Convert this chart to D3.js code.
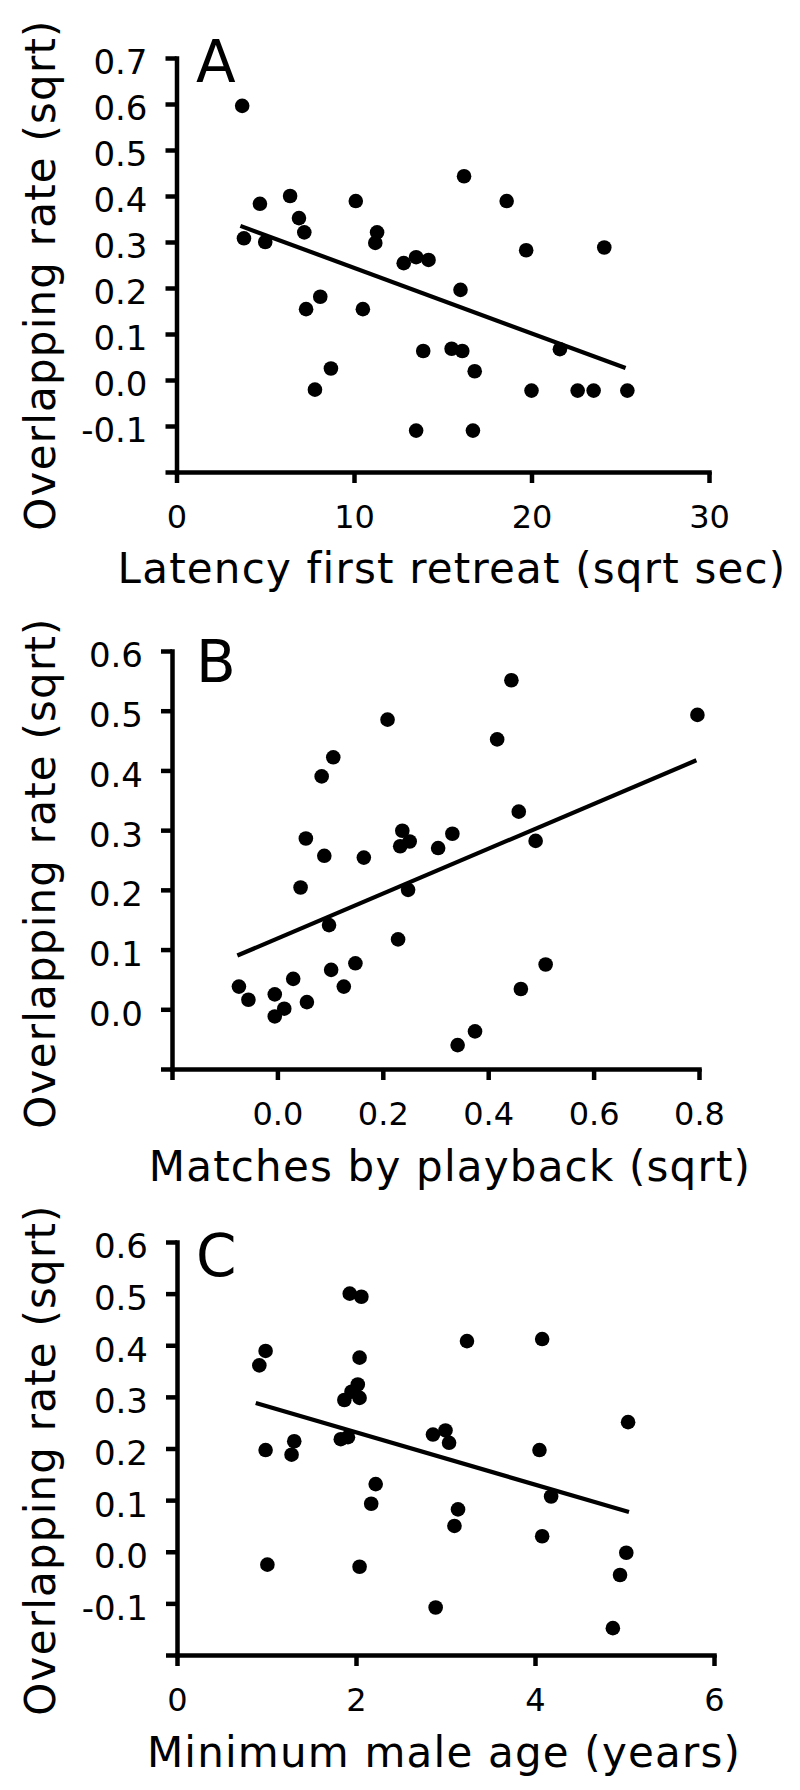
<!DOCTYPE html>
<html>
<head>
<meta charset="utf-8">
<script src="https://cdn.jsdelivr.net/npm/d3@7"></script>
<style>
  body { margin: 0; background: #fff; }
  svg { display: block; }
  text { font-family: Verdana, "DejaVu Sans", sans-serif; fill: #000; }
</style>
</head>
<body>
<svg width="800" height="1790"></svg>
<script>
// A: latency of first retreat vs overlapping rate
var latencyA = [3.7, 3.8, 4.7, 5.0, 6.4, 6.9, 7.2, 7.3, 8.1, 7.8, 8.7, 10.1, 10.5, 11.2, 11.3,
                12.8, 13.5, 14.2, 13.5, 13.9, 15.5, 16.1, 16.0, 16.2, 16.8, 16.7, 18.6, 19.7,
                20.0, 21.6, 22.6, 23.5, 24.1, 25.4];
var overlapA = [0.596, 0.308, 0.383, 0.300, 0.400, 0.352, 0.321, 0.154, 0.181, -0.021, 0.025,
                0.389, 0.154, 0.298, 0.321, 0.254, 0.267, 0.261, -0.110, 0.063, 0.068, 0.063,
                0.196, 0.443, 0.019, -0.110, 0.389, 0.282, -0.023, 0.067, -0.023, -0.023,
                0.288, -0.023];
var fitAx = [3.6, 25.3], fitAy = [0.335, 0.026];

// B: matches by playback vs overlapping rate
var matchesB = [-0.073, -0.055, -0.005, -0.005, 0.013, 0.030, 0.056, 0.044, 0.054, 0.084, 0.089,
                0.106, 0.098, 0.102, 0.126, 0.148, 0.164, 0.209, 0.229, 0.233, 0.237, 0.251,
                0.248, 0.305, 0.332, 0.342, 0.375, 0.417, 0.444, 0.458, 0.462, 0.490, 0.509, 0.797];
var overlapB = [0.038, 0.016, 0.025, -0.012, 0.001, 0.051, 0.012, 0.204, 0.286, 0.390, 0.257,
                0.422, 0.141, 0.066, 0.038, 0.077, 0.254, 0.485, 0.117, 0.273, 0.299, 0.281,
                0.200, 0.270, 0.294, -0.060, -0.037, 0.452, 0.551, 0.331, 0.034, 0.282, 0.075, 0.493];
var fitBx = [-0.076, 0.795], fitBy = [0.090, 0.417];

// C: minimum male age vs overlapping rate
var ageC = [0.92, 0.99, 0.99, 1.01, 1.28, 1.31, 1.83, 1.91, 1.87, 1.95, 1.93, 2.06, 2.04, 2.02,
            2.04, 2.22, 2.17, 2.04, 2.86, 3.00, 3.04, 2.89, 3.14, 3.10, 3.24, 4.08, 4.05, 4.08,
            4.18, 5.04, 5.02, 4.95, 4.87];
var overlapC = [0.361, 0.389, 0.197, -0.025, 0.188, 0.214, 0.218, 0.222, 0.294, 0.310, 0.500,
                0.494, 0.376, 0.324, 0.298, 0.131, 0.093, -0.029, 0.227, 0.235, 0.211, -0.108,
                0.082, 0.050, 0.408, 0.412, 0.197, 0.030, 0.107, 0.251, -0.002, -0.045, -0.148];
var fitCx = [0.88, 5.05], fitCy = [0.288, 0.077];

var xTicksA = [0, 10, 20, 30];
var xTicksB = [-0.2, 0, 0.2, 0.4, 0.6, 0.8];
var xTicksC = [0, 2, 4, 6];
var yTicksA = [-0.2, -0.1, 0, 0.1, 0.2, 0.3, 0.4, 0.5, 0.6, 0.7];
var yTicksB = [-0.1, 0, 0.1, 0.2, 0.3, 0.4, 0.5, 0.6];
var yTicksC = [-0.2, -0.1, 0, 0.1, 0.2, 0.3, 0.4, 0.5, 0.6];

var yTitle = "Overlapping rate (sqrt)";

var svg = d3.select("svg");

var panels = [
  { letter: "A", xs: latencyA, ys: overlapA, fx: fitAx, fy: fitAy,
    xTicks: xTicksA, yTicks: yTicksA, xFmt: d3.format("d"), xLabel: "Latency first retreat (sqrt sec)",
    left: 176.5, right: 709, top: 58, bottom: 472, letterY: 82, xTitleX: 452, xTitleY: 583, yTitleY: 275 },
  { letter: "B", xs: matchesB, ys: overlapB, fx: fitBx, fy: fitBy,
    xTicks: xTicksB, yTicks: yTicksB, xFmt: function(d) { return d.toFixed(1); }, xLabel: "Matches by playback (sqrt)",
    left: 172, right: 699, top: 651, bottom: 1069, letterY: 682, xTitleX: 450, xTitleY: 1181, yTitleY: 873 },
  { letter: "C", xs: ageC, ys: overlapC, fx: fitCx, fy: fitCy,
    xTicks: xTicksC, yTicks: yTicksC, xFmt: d3.format("d"), xLabel: "Minimum male age (years)",
    left: 177, right: 714, top: 1242, bottom: 1655, letterY: 1276, xTitleX: 444, xTitleY: 1767, yTitleY: 1460 }
];

panels.forEach(drawPanel);

function drawPanel(p) {
  var xDom = [p.xTicks[0], p.xTicks[p.xTicks.length - 1]];
  var yDom = [p.yTicks[0], p.yTicks[p.yTicks.length - 1]];
  var x = d3.scaleLinear().domain(xDom).range([p.left, p.right]);
  var y = d3.scaleLinear().domain(yDom).range([p.bottom, p.top]);

  var g = svg.append("g");

  // first tick of each axis has no label
  var yAxis = d3.axisLeft(y)
      .tickValues(p.yTicks)
      .tickSize(11).tickSizeOuter(0)
      .tickPadding(18)
      .tickFormat(function(d) { return d === yDom[0] ? "" : d.toFixed(1); });

  var xAxis = d3.axisBottom(x)
      .tickValues(p.xTicks)
      .tickSize(11).tickSizeOuter(0)
      .tickPadding(22)
      .tickFormat(function(d) { return d === xDom[0] && p.letter === "B" ? "" : p.xFmt(d); });

  var ya = g.append("g")
      .attr("transform", "translate(" + p.left + ",0)")
      .call(yAxis)
      .attr("font-size", 34)
      .attr("font-family", null);
  ya.selectAll("text").attr("dy", "0.47em");

  g.append("g")
      .attr("transform", "translate(0," + p.bottom + ")")
      .call(xAxis)
      .attr("font-size", 32)
      .attr("font-family", null);

  g.selectAll(".domain")
      .attr("stroke", "#000")
      .attr("stroke-width", 4.5)
      .attr("stroke-linecap", "square");
  g.selectAll(".tick line")
      .attr("stroke", "#000")
      .attr("stroke-width", 4.5);

  // regression line
  g.append("line")
      .attr("x1", x(p.fx[0])).attr("y1", y(p.fy[0]))
      .attr("x2", x(p.fx[1])).attr("y2", y(p.fy[1]))
      .attr("stroke", "#000")
      .attr("stroke-width", 4.2);

  g.append("g")
    .selectAll("circle")
    .data(p.xs)
    .enter().append("circle")
      .attr("cx", function(d) { return x(d); })
      .attr("cy", function(d, i) { return y(p.ys[i]); })
      .attr("r", 7.3)
      .attr("fill", "#000");

  g.append("text")
      .attr("x", 196)
      .attr("y", p.letterY)
      .attr("font-size", 58)
      .text(p.letter);

  g.append("text")
      .attr("x", p.xTitleX)
      .attr("y", p.xTitleY)
      .attr("text-anchor", "middle")
      .attr("font-size", 42)
      .attr("letter-spacing", 1.2)
      .text(p.xLabel);

  g.append("text")
      .attr("transform", "translate(55," + p.yTitleY + ") rotate(-90)")
      .attr("text-anchor", "middle")
      .attr("font-size", 42)
      .attr("letter-spacing", 1.2)
      .text(yTitle);
}
</script>
</body>
</html>
